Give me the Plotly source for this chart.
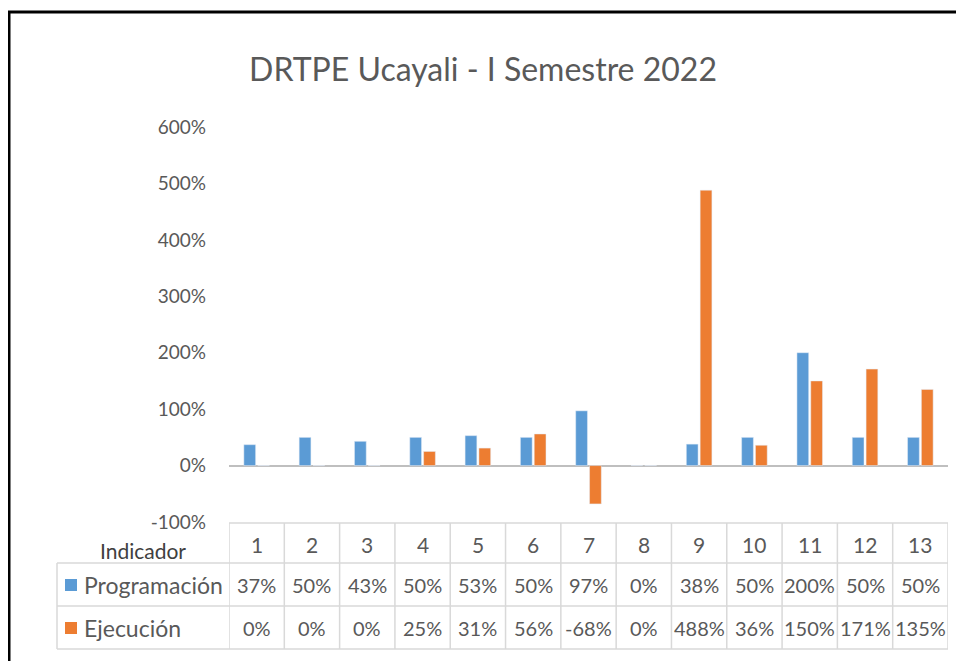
import plotly.graph_objects as go

indicadores = ["1", "2", "3", "4", "5", "6", "7", "8", "9", "10", "11", "12", "13"]
programacion = [0.37, 0.50, 0.43, 0.50, 0.53, 0.50, 0.97, 0.0, 0.38, 0.50, 2.00, 0.50, 0.50]
ejecucion = [0.0, 0.0, 0.0, 0.25, 0.31, 0.56, -0.68, 0.0, 4.88, 0.36, 1.50, 1.71, 1.35]
y_ticks = [-1, 0, 1, 2, 3, 4, 5, 6]
y_tick_labels = ["-100%", "0%", "100%", "200%", "300%", "400%", "500%", "600%"]

BLUE = "#5B9BD5"
ORANGE = "#ED7D31"
TEXT = "#595959"
GRID = "#D9D9D9"
FONT = "Lato"

# the page puts the figure 8px in from the top-left corner
OFF = 8
W, H = 964 - OFF, 661 - OFF
PLOT_L, PLOT_R, PLOT_T, PLOT_B = 229, 948, 127, 522  # screen pixels


def px_x(x):
    return (x - PLOT_L) / (PLOT_R - PLOT_L)


def px_y(y):
    return (PLOT_B - y) / (PLOT_B - PLOT_T)


fig = go.Figure()
fig.add_bar(name="Programación", x=indicadores, y=programacion, marker_color=BLUE)
fig.add_bar(name="Ejecución", x=indicadores, y=ejecucion, marker_color=ORANGE)

shapes = []
annotations = []

# data table under the plot: header, programación, ejecución
TABLE_L = 57
row_lines = [523, 563, 606, 649]
for i, yy in enumerate(row_lines):
    shapes.append(dict(
        type="line", xref="paper", yref="paper",
        x0=px_x(TABLE_L) if i else 0.0, x1=1.0,
        y0=px_y(yy), y1=px_y(yy), line=dict(color=GRID, width=1.5),
    ))
for k in range(len(indicadores) + 1):
    shapes.append(dict(
        type="line", xref="x", yref="paper", x0=k - 0.5, x1=k - 0.5,
        y0=px_y(row_lines[0]), y1=px_y(row_lines[-1]),
        line=dict(color=GRID, width=1.5),
    ))
shapes.append(dict(
    type="line", xref="paper", yref="paper", x0=px_x(TABLE_L), x1=px_x(TABLE_L),
    y0=px_y(row_lines[1]), y1=px_y(row_lines[-1]),
    line=dict(color=GRID, width=1.5),
))

# legend keys inside the table label column
for color, yc in [(BLUE, 585), (ORANGE, 628)]:
    shapes.append(dict(
        type="rect", xref="paper", yref="paper",
        x0=px_x(65), x1=px_x(77), y0=px_y(yc + 6), y1=px_y(yc - 6),
        fillcolor=color, line=dict(width=0),
    ))

# black outer frame
shapes.append(dict(
    type="rect", xref="paper", yref="paper",
    x0=px_x(9), x1=px_x(1000), y0=px_y(700), y1=px_y(12),
    line=dict(color="black", width=3), layer="above",
))


def cell(x, y, text, size, xref="x", xanchor="center", color=TEXT):
    return dict(x=x, y=y, xref=xref, yref="paper", xanchor=xanchor,
                yanchor="middle", text=text, showarrow=False,
                font=dict(family=FONT, size=size, color=color))


for i, cat in enumerate(indicadores):
    annotations.append(cell(i, px_y(544), cat, 21))
    annotations.append(cell(i, px_y(585), f"{programacion[i]:.0%}", 20))
    annotations.append(cell(i, px_y(628), f"{ejecucion[i]:.0%}", 20))

annotations.append(cell(px_x(98), px_y(550), "Indicador", 21,
                        xref="paper", xanchor="left", color="#404040"))
annotations.append(cell(px_x(82), px_y(585), "Programación", 23,
                        xref="paper", xanchor="left"))
annotations.append(cell(px_x(82), px_y(628), "Ejecución", 23,
                        xref="paper", xanchor="left"))

fig.update_layout(
    width=W,
    height=H,
    margin=dict(l=PLOT_L - OFF, r=W - (PLOT_R - OFF), t=PLOT_T - OFF, b=H - (PLOT_B - OFF)),
    paper_bgcolor="white",
    plot_bgcolor="white",
    barmode="group",
    bargap=0.5,
    bargroupgap=0.15,
    showlegend=False,
    title=dict(text="DRTPE Ucayali - I Semestre 2022", x=(483 - OFF) / W, xref="container",
               xanchor="center", y=1 - (70 - OFF) / H, yanchor="middle",
               font=dict(family=FONT, size=32, color=TEXT)),
    xaxis=dict(type="category", showticklabels=False, showgrid=False,
               zeroline=False, showline=False, ticks="",
               range=[-0.5, 12.5]),
    yaxis=dict(range=[-1, 6], tickvals=y_ticks, ticktext=y_tick_labels,
               showgrid=False, zeroline=True, zerolinecolor="#BFBFBF",
               zerolinewidth=2, showline=False, ticks="", ticklabelstandoff=22,
               tickfont=dict(family=FONT, size=19, color=TEXT)),
    shapes=shapes,
    annotations=annotations,
)

fig.write_html("out.html")
